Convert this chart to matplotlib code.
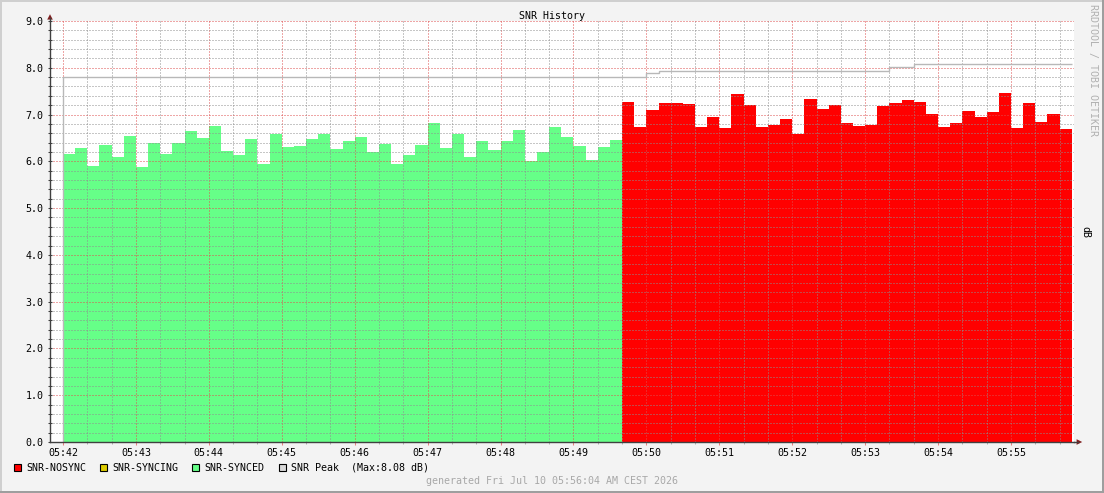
import numpy as np
import matplotlib
matplotlib.use("Agg")
import matplotlib.pyplot as plt
from matplotlib.patches import Rectangle, Polygon
from matplotlib.lines import Line2D

# ---------------- data ----------------
title = "SNR History"
unit_label = "dB"
watermark = "RRDTOOL / TOBI OETIKER"
footer = "generated Fri Jul 10 05:56:04 AM CEST 2026"
time_labels = ["05:42", "05:43", "05:44", "05:45", "05:46", "05:47", "05:48",
               "05:49", "05:50", "05:51", "05:52", "05:53", "05:54", "05:55"]
step_seconds = 10

snr_synced = [6.15, 6.28, 5.90, 6.35, 6.09, 6.54, 5.88, 6.39, 6.15, 6.39, 6.64, 6.49,
              6.75, 6.22, 6.14, 6.47, 5.95, 6.58, 6.30, 6.32, 6.47, 6.58, 6.26, 6.43,
              6.51, 6.20, 6.37, 5.95, 6.13, 6.35, 6.83, 6.28, 6.58, 6.09, 6.43, 6.24,
              6.43, 6.68, 6.01, 6.20, 6.73, 6.51, 6.32, 6.03, 6.30, 6.45]
snr_nosync = [7.27, 6.73, 7.10, 7.25, 7.25, 7.23, 6.73, 6.95, 6.71, 7.44, 7.20, 6.73,
              6.78, 6.90, 6.58, 7.33, 7.12, 7.20, 6.82, 6.75, 6.78, 7.18, 7.25, 7.31,
              7.27, 7.01, 6.73, 6.82, 7.08, 6.95, 7.05, 7.46, 6.71, 7.25, 6.84, 7.01,
              6.69]
snr_peak = [7.81, 7.81, 7.81, 7.81, 7.81, 7.81, 7.81, 7.81, 7.81, 7.81, 7.81, 7.81,
            7.81, 7.81, 7.81, 7.81, 7.81, 7.81, 7.81, 7.81, 7.81, 7.81, 7.81, 7.81,
            7.81, 7.81, 7.81, 7.81, 7.81, 7.81, 7.81, 7.81, 7.81, 7.81, 7.81, 7.81,
            7.81, 7.81, 7.81, 7.81, 7.81, 7.81, 7.81, 7.81, 7.81, 7.81, 7.81, 7.81,
            7.89, 7.93, 7.93, 7.93, 7.93, 7.93, 7.93, 7.93, 7.93, 7.93, 7.93, 7.93,
            7.93, 7.93, 7.93, 7.93, 7.93, 7.93, 7.93, 7.93, 8.02, 8.02, 8.08, 8.08,
            8.08, 8.08, 8.08, 8.08, 8.08, 8.08, 8.08, 8.08, 8.08, 8.08, 8.08]
legend_labels = ["SNR-NOSYNC", "SNR-SYNCING", "SNR-SYNCED", "SNR Peak  (Max:8.08 dB)"]

# ---------------- style ----------------
C_NOSYNC = "#FF0000"
C_SYNCING = "#DDCC00"
C_SYNCED = "#66FF88"
C_PEAK = "#B8B8B8"
C_PEAK_BOX = "#D8D8D8"
C_BACK = "#F3F3F3"
C_GRID = (0.56, 0.56, 0.56, 0.38)
C_MGRID = (0.87, 0.31, 0.31, 0.42)
C_AXIS = "#404040"
C_ARROW = "#7F1F1F"

plt.rcParams["font.family"] = ["DejaVu Sans Mono", "DejaVu Sans"]
plt.rcParams["font.size"] = 7.2

W, H = 1104, 493
fig = plt.figure(figsize=(W / 100, H / 100), dpi=100, facecolor=C_BACK)

L, R, T, B = 50, 1074, 21, 442
ax = fig.add_axes([L / W, 1 - B / H, (R - L) / W, (B - T) / H])
ax.set_facecolor("white")

n_syn = len(snr_synced)
n_nos = len(snr_nosync)
edges_syn = np.arange(n_syn + 1) * step_seconds
edges_nos = (n_syn + np.arange(n_nos + 1)) * step_seconds
edges_all = np.arange(len(snr_peak) + 1) * step_seconds

ax.stairs(snr_synced, edges_syn, fill=True, color=C_SYNCED, zorder=1, lw=0)
ax.stairs(snr_nosync, edges_nos, fill=True, color=C_NOSYNC, zorder=1, lw=0)
ax.stairs(snr_peak, edges_all, baseline=None, color=C_PEAK, lw=1.0, zorder=3)
ax.vlines(edges_all[0], 0, snr_peak[0], color=C_PEAK, lw=1.0, zorder=3)

# scales
px_per_sec = (1011 - 63) / (13 * 60)
ax.set_xlim(-(63 - L) / px_per_sec, (R - 63) / px_per_sec)
ax.set_ylim(0, 9.0)

major_x = np.arange(len(time_labels)) * 60
ax.set_xticks(major_x)
ax.set_xticklabels(time_labels)
ax.set_xticks(np.arange(0, 840, 20), minor=True)
ax.set_yticks(np.arange(0, 9.01, 1.0))
ax.set_yticklabels([f"{v:.1f}" for v in np.arange(0, 9.01, 1.0)])
ax.set_yticks(np.arange(0, 9.01, 0.2), minor=True)

ax.set_axisbelow(False)
ax.grid(which="minor", color=C_GRID, linestyle=(0, (1, 2)), lw=0.72)
ax.grid(which="major", color=C_MGRID, linestyle=(0, (1, 2)), lw=0.72)

for s in ["top", "right"]:
    ax.spines[s].set_visible(False)
for s in ["left", "bottom"]:
    ax.spines[s].set_color(C_AXIS)
    ax.spines[s].set_linewidth(1.0)
    ax.spines[s].set_zorder(4)

ax.tick_params(axis="y", which="both", direction="inout", length=3.2, width=0.75,
               color=C_AXIS, pad=3.2, labelsize=7.2, labelcolor="black")
ax.tick_params(axis="x", which="major", direction="out", length=2.5, width=0.75,
               color="#E88080", pad=2.0, labelsize=7.2, labelcolor="black")
ax.tick_params(axis="x", which="minor", direction="out", length=1.5, width=0.75,
               color="#B0B0B0")

# ---------------- overlay (frame, arrows, legend, texts) ----------------
ov = fig.add_axes([0, 0, 1, 1], zorder=10)
ov.set_xlim(0, W)
ov.set_ylim(H, 0)
ov.axis("off")
ov.patch.set_alpha(0)

ov.add_patch(Rectangle((0, 0), W, 2, color="#CFCFCF", lw=0))
ov.add_patch(Rectangle((0, 0), 2, H, color="#CFCFCF", lw=0))
ov.add_patch(Rectangle((W - 2, 0), 2, H, color="#9E9E9E", lw=0))
ov.add_patch(Rectangle((0, H - 2), W, 2, color="#9E9E9E", lw=0))

ov.add_line(Line2D([L, L], [T, 18], color=C_AXIS, lw=1.0))
ov.add_line(Line2D([R, 1078], [B, B], color=C_AXIS, lw=1.0))
ov.add_patch(Polygon([(47.2, 19.6), (52.8, 19.6), (50, 14.2)], closed=True,
                     color=C_ARROW, lw=0))
ov.add_patch(Polygon([(1076.6, 439.2), (1076.6, 444.8), (1082.2, 442)], closed=True,
                     color=C_ARROW, lw=0))

ov.text(W / 2, 18.7, title, ha="center", va="baseline", fontsize=7.2, color="black")
ov.text(1085, 232, unit_label, ha="center", va="center", rotation=270,
        fontsize=7.2, color="black")
ov.text(1093, 4, watermark, ha="center", va="top", rotation=270,
        fontsize=7.2, color="#B0B0B0")
ov.text(W / 2, 484, footer, ha="center", va="baseline", fontsize=7.2, color="#A8A8A8")

legend_colors = [C_NOSYNC, C_SYNCING, C_SYNCED, C_PEAK_BOX]
box_x = [13, 99, 191, 278]
for bx, col, lab in zip(box_x, legend_colors, legend_labels):
    ov.add_patch(Rectangle((bx + 0.5, 463.5), 7, 7, facecolor=col, edgecolor="black", lw=0.8))
    ov.text(bx + 13, 470.6, lab, ha="left", va="baseline", fontsize=7.2, color="black")

fig.savefig("out.png", dpi=100, facecolor=C_BACK)
